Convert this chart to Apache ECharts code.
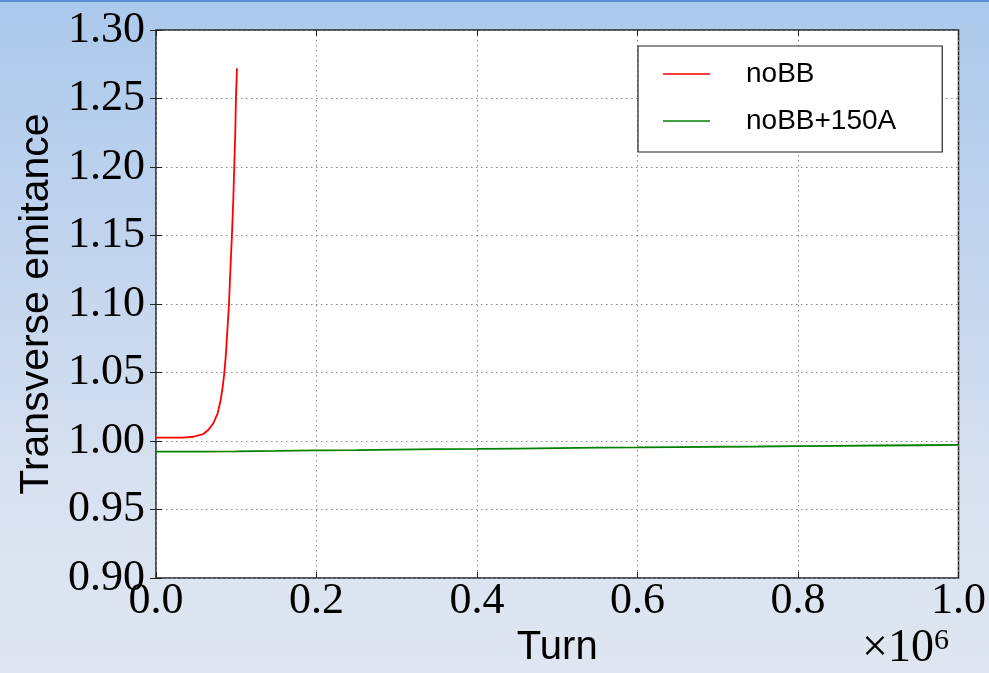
<!DOCTYPE html>
<html>
<head>
<meta charset="utf-8">
<script src="https://cdn.jsdelivr.net/npm/echarts@6/dist/echarts.min.js"></script>
<style>
html,body{margin:0;padding:0;}
body{width:989px;height:673px;overflow:hidden;
background:linear-gradient(to bottom,#abc9ec 0%,#c3d5ee 40%,#d9e2f0 75%,#dfe6f1 100%);}
#topbar{position:absolute;left:0;top:0;width:989px;height:2px;background:#5a8fd8;}
#chart{position:absolute;left:0;top:0;width:989px;height:673px;}
</style>
</head>
<body>
<div id="chart"></div>
<div id="topbar"></div>
<script>
// Turn values in units of 1e6
const redTurns = [0.000, 0.020, 0.0340, 0.0465, 0.0589, 0.0651, 0.0714, 0.0768, 0.0806, 0.0831, 0.0851, 0.0872, 0.0884, 0.0909, 0.0925, 0.0946, 0.0963, 0.0975, 0.0988, 0.0996, 0.1009];
const redValues = [1.0024, 1.0024, 1.0024, 1.0031, 1.0051, 1.0080, 1.0129, 1.0202, 1.0299, 1.0396, 1.0494, 1.0640, 1.0761, 1.0993, 1.1224, 1.1499, 1.1759, 1.2002, 1.2258, 1.2501, 1.2720];
const greenTurns = [0.00, 0.05, 0.10, 0.15, 0.20, 0.25, 0.30, 0.35, 0.40, 0.45, 0.50, 0.55, 0.60, 0.65, 0.70, 0.75, 0.80, 0.85, 0.90, 0.95, 1.00];
const greenValues = [0.9922, 0.9923, 0.9925, 0.9928, 0.9932, 0.9934, 0.9937, 0.9940, 0.9942, 0.9945, 0.9948, 0.9951, 0.9953, 0.9956, 0.9958, 0.9960, 0.9963, 0.9965, 0.9967, 0.9969, 0.9971];
const seriesNames = ['noBB', 'noBB+150A'];
const xTicks = [0.0, 0.2, 0.4, 0.6, 0.8, 1.0];
const yTicks = [0.90, 0.95, 1.00, 1.05, 1.10, 1.15, 1.20, 1.25, 1.30];

const chart = echarts.init(document.getElementById('chart'), null, {renderer: 'canvas'});
const serifFont = 'Liberation Serif';
const sansFont = 'Liberation Sans';
const gridLine = {show: true, lineStyle: {color: '#888', width: 1, type: [1.5, 3.5]}};

const option = {
  animation: false,
  backgroundColor: 'transparent',
  grid: {left: 156, top: 30, right: 30, bottom: 95, show: true, backgroundColor: '#ffffff', borderColor: '#222', borderWidth: 1.5},
  legend: {
    data: seriesNames,
    orient: 'vertical',
    left: 638, top: 46,
    icon: 'rect', itemWidth: 47, itemHeight: 1.5,
    itemGap: 17,
    padding: [13, 46, 16, 25],
    backgroundColor: '#ffffff',
    borderColor: '#222', borderWidth: 1.2,
    textStyle: {fontFamily: sansFont, fontSize: 28, color: '#000', lineHeight: 30, padding: [0, 0, 0, 31]}
  },
  xAxis: [{
    type: 'value', min: xTicks[0], max: xTicks[xTicks.length - 1], interval: 0.2,
    name: 'Turn', nameLocation: 'middle', nameGap: 47,
    nameTextStyle: {fontFamily: sansFont, fontSize: 40, color: '#000'},
    axisLine: {show: false},
    axisTick: {show: true, inside: true, length: 6, lineStyle: {color: '#222'}},
    axisLabel: {fontFamily: serifFont, fontSize: 44, color: '#000', margin: 1, formatter: v => v.toFixed(1)},
    splitLine: gridLine
  }, {
    type: 'value', position: 'top', min: 0, max: 1, interval: 0.2,
    axisLine: {show: false}, axisLabel: {show: false}, splitLine: {show: false},
    axisTick: {show: true, inside: true, length: 6, lineStyle: {color: '#222'}}
  }],
  yAxis: [{
    type: 'value', min: yTicks[0], max: yTicks[yTicks.length - 1], interval: 0.05,
    name: 'Transverse emitance', nameLocation: 'middle', nameGap: 96, nameRotate: 90,
    nameTextStyle: {fontFamily: sansFont, fontSize: 41, color: '#000'},
    axisLine: {show: false},
    axisTick: {show: true, inside: true, length: 6, lineStyle: {color: '#222'}},
    axisLabel: {fontFamily: serifFont, fontSize: 44, color: '#000', margin: 11, padding: [0, 0, 6, 0], formatter: v => v.toFixed(2)},
    splitLine: gridLine
  }, {
    type: 'value', position: 'right', min: 0.9, max: 1.3, interval: 0.05,
    axisLine: {show: false}, axisLabel: {show: false}, splitLine: {show: false},
    axisTick: {show: true, inside: true, length: 6, lineStyle: {color: '#222'}}
  }],
  series: [{
    name: seriesNames[0], type: 'line', showSymbol: false, symbol: 'none',
    data: redTurns.map((x, i) => [x, redValues[i]]),
    lineStyle: {color: '#ff0000', width: 1.8}, itemStyle: {color: '#ff0000'}
  }, {
    name: seriesNames[1], type: 'line', showSymbol: false, symbol: 'none',
    data: greenTurns.map((x, i) => [x, greenValues[i]]),
    lineStyle: {color: '#008000', width: 1.8}, itemStyle: {color: '#008000'}
  }],
  graphic: [{
    type: 'text', right: 40, top: 626,
    style: {
      text: '{a|×10}{b|6}',
      rich: {
        a: {fontFamily: serifFont, fontSize: 46, color: '#000', verticalAlign: 'bottom'},
        b: {fontFamily: serifFont, fontSize: 30, color: '#000', verticalAlign: 'top', padding: [0, 0, 12, 0]}
      }
    }
  }]
};
chart.setOption(option);
</script>
</body>
</html>
